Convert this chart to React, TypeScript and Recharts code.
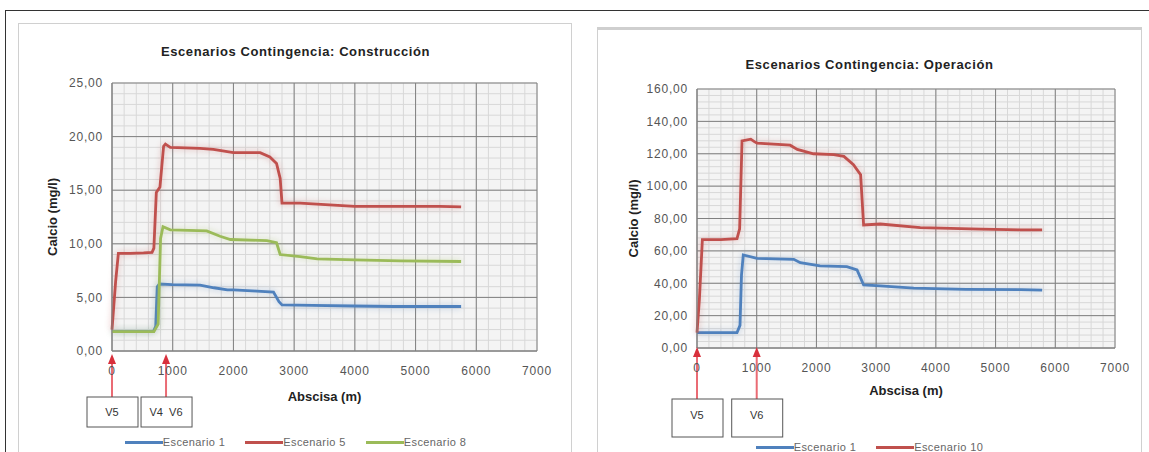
import React from 'react';
import {
  CartesianGrid,
  Legend,
  Line,
  LineChart,
  ReferenceDot,
  XAxis,
  YAxis,
} from 'recharts';

type Pt = [number, number];

const FONT = '"Liberation Sans", Arial, sans-serif';

// abscisa (m) / calcio (mg/l)
const X_TICKS = [0, 1000, 2000, 3000, 4000, 5000, 6000, 7000];
const Y_TICKS_CONS = [0, 5, 10, 15, 20, 25];
const Y_TICKS_OPER = [0, 20, 40, 60, 80, 100, 120, 140, 160];

const CONS_ESC1: Pt[] = [
  [0, 1.8], [300, 1.8], [680, 1.8], [720, 2.3], [745, 6.0], [780, 6.25],
  [990, 6.2], [1450, 6.15], [1680, 5.9], [1900, 5.7], [2000, 5.7],
  [2660, 5.5], [2750, 4.6], [2800, 4.3], [3300, 4.25], [3980, 4.2],
  [4640, 4.15], [5750, 4.15],
];
const CONS_ESC5: Pt[] = [
  [0, 2.0], [60, 6.5], [105, 9.1], [300, 9.1], [520, 9.15], [660, 9.2],
  [690, 9.6], [730, 14.8], [790, 15.3], [850, 19.1], [880, 19.3],
  [960, 19.0], [1450, 18.9], [1670, 18.8], [2000, 18.5], [2440, 18.5],
  [2600, 18.1], [2710, 17.5], [2770, 16.1], [2800, 13.8], [3100, 13.8],
  [3650, 13.6], [4000, 13.5], [5400, 13.5], [5750, 13.45],
];
const CONS_ESC8: Pt[] = [
  [0, 1.8], [300, 1.8], [690, 1.8], [760, 2.5], [800, 10.5], [840, 11.6],
  [960, 11.3], [1560, 11.2], [1780, 10.7], [1950, 10.4], [2550, 10.3],
  [2710, 10.1], [2770, 9.0], [3100, 8.8], [3380, 8.6], [4000, 8.5],
  [4750, 8.4], [5750, 8.35],
];

const OPER_ESC1: Pt[] = [
  [0, 9.5], [300, 9.5], [670, 9.5], [720, 14], [745, 45], [775, 57.5],
  [1005, 55.4], [1620, 54.8], [1730, 52.7], [2060, 50.7], [2510, 50.3],
  [2680, 48.2], [2790, 39.0], [3070, 38.4], [3630, 37.0], [4500, 36.2],
  [5420, 36.0], [5780, 35.8],
];
const OPER_ESC10: Pt[] = [
  [0, 9.5], [40, 30], [90, 67], [400, 67], [670, 67.5], [714, 73.6],
  [754, 128], [900, 129], [960, 127.5], [1005, 126.6], [1560, 125.3],
  [1680, 122.7], [1950, 120], [2290, 119.5], [2460, 118.4], [2620, 113.3],
  [2740, 107], [2790, 76], [3070, 76.6], [3740, 74.4], [4750, 73.4],
  [5420, 73.0], [5780, 73.0],
];

const VALVES_CONS = [
  { x: 0, label: 'V5' },
  { x: 890, label: 'V4  V6' },
];
const VALVES_OPER = [
  { x: 0, label: 'V5' },
  { x: 1000, label: 'V6' },
];

const RED = '#c0504d';
const BLUE = '#4f81bd';
const GREEN = '#9bbb59';
const X_MAX = 7000;

type Serie = { name: string; color: string; points: Pt[] };

// minor grid values (every 200 m / every yMinor units)
const minorTicks = (max: number, step: number) =>
  Array.from({ length: Math.round(max / step) + 1 }, (_, i) => i * step);

const fmtY = (v: number) => v.toFixed(2).replace('.', ',');

type PanelProps = {
  title: string;
  titleTop: number;
  left: number;
  top: number;
  width: number;
  height: number;
  margin: { top: number; right: number; left: number; bottom: number };
  yWidth: number;
  yMax: number;
  yTicks: number[];
  yMinor: number;
  yLabelOffset: number;
  xLabelOffset: number;
  legendTop: number;
  series: Serie[];
  valves: { x: number; label: string }[];
  boxDrop: number;
  boxH: number;
  tipDy: number;
};

function Panel(p: PanelProps) {
  const tick = { fontSize: 12, fill: '#555', fontFamily: FONT, letterSpacing: 0.8 };
  const xMinor = minorTicks(X_MAX, 200);
  const yMinor = minorTicks(p.yMax, p.yMinor);
  return (
    <div style={{ position: 'absolute', left: p.left, top: p.top, width: p.width, height: p.height }}>
      <div
        style={{
          position: 'absolute',
          left: 0,
          width: p.width,
          top: p.titleTop,
          textAlign: 'center',
          fontFamily: FONT,
          fontWeight: 'bold',
          fontSize: 13,
          letterSpacing: 0.6,
          color: '#222',
          zIndex: 2,
        }}
      >
        {p.title}
      </div>
      <LineChart width={p.width} height={p.height} margin={p.margin}>
        <CartesianGrid
          stroke="#d8d8d8"
          fill="#f4f4f4"
          verticalCoordinatesGenerator={({ offset }: any) =>
            xMinor.map((t) => offset.left + (t / X_MAX) * offset.width)
          }
          horizontalCoordinatesGenerator={({ offset }: any) =>
            yMinor.map((t) => offset.top + (1 - t / p.yMax) * offset.height)
          }
        />
        <CartesianGrid stroke="#808080" />
        <XAxis
          type="number"
          dataKey="x"
          domain={[0, X_MAX]}
          ticks={X_TICKS}
          interval={0}
          height={55}
          tickSize={0}
          tickMargin={15}
          axisLine={{ stroke: '#808080' }}
          tick={tick}
          label={{
            value: 'Abscisa (m)',
            position: 'insideTop',
            offset: p.xLabelOffset,
            fontSize: 13,
            fontWeight: 'bold',
            fill: '#222',
            fontFamily: FONT,
          }}
        />
        <YAxis
          type="number"
          domain={[0, p.yMax]}
          ticks={p.yTicks}
          interval={0}
          width={p.yWidth}
          tickSize={0}
          tickMargin={9}
          tickFormatter={fmtY}
          axisLine={{ stroke: '#808080' }}
          tick={tick}
          label={{
            value: 'Calcio (mg/l)',
            angle: -90,
            position: 'insideLeft',
            offset: p.yLabelOffset,
            style: { textAnchor: 'middle' },
            fontSize: 13,
            fontWeight: 'bold',
            fill: '#222',
            fontFamily: FONT,
          }}
        />
        {p.series.map((s) => (
          <Line
            key={s.name}
            name={s.name}
            data={s.points.map(([x, y]) => ({ x, y }))}
            dataKey="y"
            type="linear"
            stroke={s.color}
            strokeWidth={2.8}
            dot={false}
            activeDot={false}
            isAnimationActive={false}
            style={{ filter: `drop-shadow(0 0 3px ${s.color}66)` }}
          />
        ))}
        {p.valves.map((v) => (
          <ReferenceDot
            key={v.label}
            x={v.x}
            y={0}
            ifOverflow="visible"
            shape={(sp: any) => {
              const cx = sp.cx as number;
              const cy = sp.cy as number;
              const t = cy + p.tipDy;
              return (
                <g>
                  <line x1={cx} x2={cx} y1={t + 8} y2={cy + p.boxDrop} stroke="#ea6b74" strokeWidth={2} />
                  <polygon points={`${cx},${t} ${cx - 4},${t + 10} ${cx + 4},${t + 10}`} fill="#d8303c" />
                  <rect x={cx - 25} y={cy + p.boxDrop} width={51} height={p.boxH} fill="#fff" stroke="#555" strokeWidth={1} />
                  <text
                    x={cx}
                    y={cy + p.boxDrop + (p.boxH > 34 ? 16 : p.boxH / 2)}
                    textAnchor="middle"
                    dominantBaseline="central"
                    fontSize={11}
                    fontFamily={FONT}
                    fill="#333"
                    xmlSpace="preserve"
                  >
                    {v.label}
                  </text>
                </g>
              );
            }}
          />
        ))}
        <Legend
          wrapperStyle={{ top: p.legendTop, left: 0, width: p.width, height: 14 }}
          content={() => (
            <div
              style={{
                display: 'flex',
                justifyContent: 'center',
                alignItems: 'center',
                gap: 20,
                height: 14,
                fontFamily: FONT,
                fontSize: 11,
                color: '#666',
                letterSpacing: 0.4,
              }}
            >
              {p.series.map((s) => (
                <span key={s.name} style={{ display: 'flex', alignItems: 'center' }}>
                  <span style={{ display: 'inline-block', width: 38, height: 3, background: s.color }} />
                  <span>{s.name}</span>
                </span>
              ))}
            </div>
          )}
        />
      </LineChart>
    </div>
  );
}

export default function App() {
  return (
    <div style={{ position: 'absolute', left: 0, top: 0, width: 1149, height: 452, background: '#fff', overflow: 'hidden' }}>
      <div style={{ position: 'absolute', left: 5, top: 10, width: 1160, height: 460, borderTop: '1.5px solid #333', borderLeft: '1.5px solid #333' }} />
      <div style={{ position: 'absolute', left: 18, top: 23, width: 552, height: 440, border: '1.5px solid #d0d0d0' }} />
      <div style={{ position: 'absolute', left: 597, top: 27, width: 543, height: 440, border: '1.5px solid #d0d0d0', borderTop: '3px solid #cfcfcf' }} />
      <Panel
        title="Escenarios Contingencia: Construcción"
        titleTop={20}
        left={19}
        top={24}
        width={553}
        height={428}
        margin={{ top: 59, right: 35, left: 0, bottom: 32 }}
        yWidth={93}
        yMax={25}
        yTicks={Y_TICKS_CONS}
        yMinor={1}
        yLabelOffset={33}
        xLabelOffset={41}
        legendTop={411}
        series={[
          { name: 'Escenario 1', color: BLUE, points: CONS_ESC1 },
          { name: 'Escenario 5', color: RED, points: CONS_ESC5 },
          { name: 'Escenario 8', color: GREEN, points: CONS_ESC8 },
        ]}
        valves={VALVES_CONS}
        boxDrop={46}
        boxH={30}
        tipDy={3}
      />
      <Panel
        title="Escenarios Contingencia: Operación"
        titleTop={29}
        left={598}
        top={28}
        width={543}
        height={424}
        margin={{ top: 61, right: 26, left: 0, bottom: 35 }}
        yWidth={99}
        yMax={160}
        yTicks={Y_TICKS_OPER}
        yMinor={4}
        yLabelOffset={35}
        xLabelOffset={38}
        legendTop={412}
        series={[
          { name: 'Escenario 1', color: BLUE, points: OPER_ESC1 },
          { name: 'Escenario 10', color: RED, points: OPER_ESC10 },
        ]}
        valves={VALVES_OPER}
        boxDrop={51}
        boxH={38}
        tipDy={-1}
      />
    </div>
  );
}
